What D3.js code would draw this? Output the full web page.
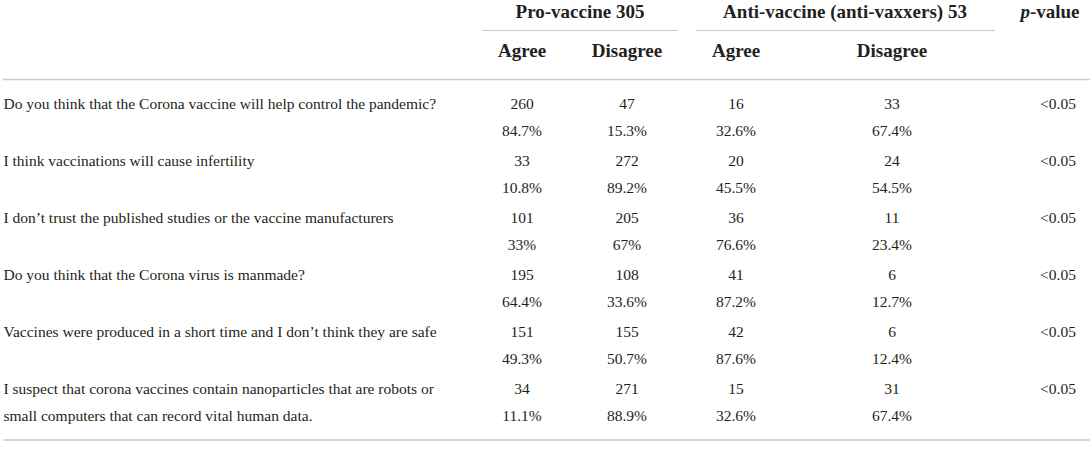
<!DOCTYPE html>
<html><head><meta charset="utf-8">
<script src="https://cdn.jsdelivr.net/npm/d3@7"></script>
<style>
html,body{margin:0;padding:0;background:#fff;}
svg{display:block;}
</style></head>
<body>
<svg id="chart" width="1092" height="449"></svg>
<script>
const groups = ["Pro-vaccine 305", "Anti-vaccine (anti-vaxxers) 53"];
const subHeaders = ["Agree", "Disagree", "Agree", "Disagree"];
const questions = [
  ["Do you think that the Corona vaccine will help control the pandemic?"],
  ["I think vaccinations will cause infertility"],
  ["I don\u2019t trust the published studies or the vaccine manufacturers"],
  ["Do you think that the Corona virus is manmade?"],
  ["Vaccines were produced in a short time and I don\u2019t think they are safe"],
  ["I suspect that corona vaccines contain nanoparticles that are robots or", "small computers that can record vital human data."]
];
const proAgreeN = ["260", "33", "101", "195", "151", "34"];
const proAgreePct = ["84.7%", "10.8%", "33%", "64.4%", "49.3%", "11.1%"];
const proDisagreeN = ["47", "272", "205", "108", "155", "271"];
const proDisagreePct = ["15.3%", "89.2%", "67%", "33.6%", "50.7%", "88.9%"];
const antiAgreeN = ["16", "20", "36", "41", "42", "15"];
const antiAgreePct = ["32.6%", "45.5%", "76.6%", "87.2%", "87.6%", "32.6%"];
const antiDisagreeN = ["33", "24", "11", "6", "6", "31"];
const antiDisagreePct = ["67.4%", "54.5%", "23.4%", "12.7%", "12.4%", "67.4%"];
const pValues = ["<0.05", "<0.05", "<0.05", "<0.05", "<0.05", "<0.05"];

const svg = d3.select("#chart");
const font = "'Liberation Serif', 'Times New Roman', serif";
const textColor = "#231f20";
const ruleColor = "#cbcbcb";
const bodySize = 15.5;
const headSize = 19;

const colKeys = ["pa", "pd", "aa", "ad", "p"];
const colX = d3.scaleOrdinal().domain(colKeys).range([522, 627, 736, 892, 1058]);
const rowY = d3.scaleBand().domain(d3.range(questions.length)).range([89, 431]).padding(0);

// Header group labels
const groupInfo = [
  {label: groups[0], cx: 580, x0: 482, x1: 678},
  {label: groups[1], cx: 845, x0: 696, x1: 995}
];
svg.selectAll("text.group").data(groupInfo).join("text")
  .attr("class", "group")
  .attr("x", d => d.cx).attr("y", 17.5)
  .attr("text-anchor", "middle")
  .attr("font-family", font).attr("font-weight", "bold").attr("font-size", headSize)
  .attr("fill", textColor)
  .text(d => d.label);
svg.selectAll("line.gline").data(groupInfo).join("line")
  .attr("class", "gline")
  .attr("x1", d => d.x0).attr("x2", d => d.x1)
  .attr("y1", 30.5).attr("y2", 30.5)
  .attr("stroke", ruleColor).attr("stroke-width", 1.2);

// p-value header
const ph = svg.append("text").attr("x", 1050).attr("y", 17.5).attr("text-anchor", "middle")
  .attr("font-family", font).attr("font-weight", "bold").attr("font-size", headSize).attr("fill", textColor);
ph.append("tspan").attr("font-style", "italic").text("p");
ph.append("tspan").text("-value");

// sub headers
svg.selectAll("text.sub").data(subHeaders).join("text")
  .attr("class", "sub")
  .attr("x", (d, i) => colX(colKeys[i])).attr("y", 56.5)
  .attr("text-anchor", "middle")
  .attr("font-family", font).attr("font-weight", "bold").attr("font-size", headSize)
  .attr("fill", textColor)
  .text(d => d);

// rules
svg.append("line").attr("x1", 3).attr("x2", 1090).attr("y1", 79.5).attr("y2", 79.5)
  .attr("stroke", ruleColor).attr("stroke-width", 1.4);
svg.append("line").attr("x1", 3).attr("x2", 1090).attr("y1", 440).attr("y2", 440)
  .attr("stroke", ruleColor).attr("stroke-width", 1.4);

const lineGap = 27.5;
const baseOff = 19.5;

// questions
questions.forEach((lines, i) => {
  svg.append("g").selectAll("text").data(lines).join("text")
    .attr("x", 3.5).attr("y", (d, j) => rowY(i) + baseOff + j * lineGap)
    .attr("font-family", font).attr("font-size", bodySize).attr("fill", textColor)
    .text(d => d);
});

// values
const cols = [
  {key: "pa", n: proAgreeN, pct: proAgreePct},
  {key: "pd", n: proDisagreeN, pct: proDisagreePct},
  {key: "aa", n: antiAgreeN, pct: antiAgreePct},
  {key: "ad", n: antiDisagreeN, pct: antiDisagreePct},
  {key: "p", n: pValues, pct: null}
];
cols.forEach(c => {
  const g = svg.append("g");
  g.selectAll("text.n").data(c.n).join("text").attr("class", "n")
    .attr("x", colX(c.key)).attr("y", (d, i) => rowY(i) + baseOff)
    .attr("text-anchor", "middle")
    .attr("font-family", font).attr("font-size", bodySize).attr("fill", textColor)
    .text(d => d);
  if (c.pct) {
    g.selectAll("text.pct").data(c.pct).join("text").attr("class", "pct")
      .attr("x", colX(c.key)).attr("y", (d, i) => rowY(i) + baseOff + lineGap)
      .attr("text-anchor", "middle")
      .attr("font-family", font).attr("font-size", bodySize).attr("fill", textColor)
      .text(d => d);
  }
});
</script>
</body></html>
